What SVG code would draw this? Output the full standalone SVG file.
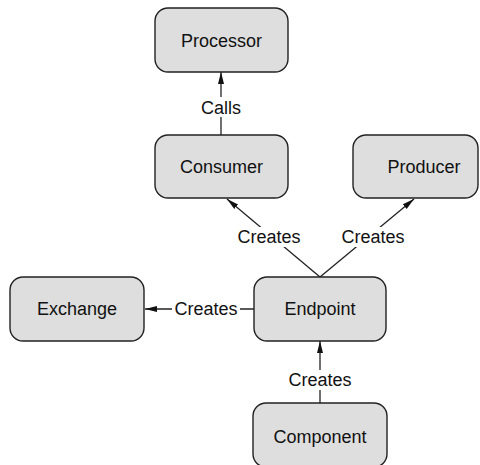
<svg xmlns="http://www.w3.org/2000/svg" width="480" height="465" viewBox="0 0 480 465">
<style>
.box{fill:#dedede;stroke:#222;stroke-width:1.4}
.lbl{font-family:"Liberation Sans",Arial,sans-serif;font-size:18px;fill:#111;text-anchor:middle}
.edge{stroke:#222;stroke-width:1.3;fill:none}
.bg{fill:#fff}
</style>
<defs>
<marker id="arr" markerUnits="userSpaceOnUse" markerWidth="14" markerHeight="8" refX="12" refY="4" orient="auto">
<path d="M0,1 L12,4 L0,7 z" fill="#111"/>
</marker>
</defs>
<rect width="480" height="465" fill="#fff"/>
<g id="connectors">
<line class="edge" x1="221" y1="135" x2="221" y2="72" marker-end="url(#arr)"/>
<line class="edge" x1="320" y1="277" x2="227" y2="199" marker-end="url(#arr)"/>
<line class="edge" x1="320" y1="277" x2="414" y2="199" marker-end="url(#arr)"/>
<line class="edge" x1="254" y1="309" x2="145" y2="309" marker-end="url(#arr)"/>
<line class="edge" x1="320" y1="403" x2="320" y2="341" marker-end="url(#arr)"/>
<rect class="bg" x="201" y="97" width="40" height="20"/>
<text class="lbl" x="221" y="114">Calls</text>
<rect class="bg" x="236" y="227" width="66" height="20"/>
<text class="lbl" x="269" y="243">Creates</text>
<rect class="bg" x="340" y="227" width="66" height="20"/>
<text class="lbl" x="373" y="243">Creates</text>
<rect class="bg" x="172" y="299" width="68" height="20"/>
<text class="lbl" x="206" y="315">Creates</text>
<rect class="bg" x="287" y="370" width="66" height="20"/>
<text class="lbl" x="320" y="386">Creates</text>
</g>
<g id="processor">
<rect class="box" x="155" y="8" width="133" height="64" rx="13"/>
<text class="lbl" x="221.5" y="46.5">Processor</text>
</g>
<g id="consumer">
<rect class="box" x="155" y="135" width="133" height="63" rx="13"/>
<text class="lbl" x="221.5" y="173">Consumer</text>
</g>
<g id="producer">
<rect class="box" x="353" y="135" width="125" height="63" rx="13"/>
<text class="lbl" x="424" y="173">Producer</text>
</g>
<g id="exchange">
<rect class="box" x="10" y="277" width="134" height="64" rx="13"/>
<text class="lbl" x="77" y="315">Exchange</text>
</g>
<g id="endpoint">
<rect class="box" x="254" y="277" width="132" height="64" rx="13"/>
<text class="lbl" x="320" y="315">Endpoint</text>
</g>
<g id="component">
<rect class="box" x="253" y="403" width="134" height="64" rx="13"/>
<text class="lbl" x="320" y="443">Component</text>
</g>
</svg>
